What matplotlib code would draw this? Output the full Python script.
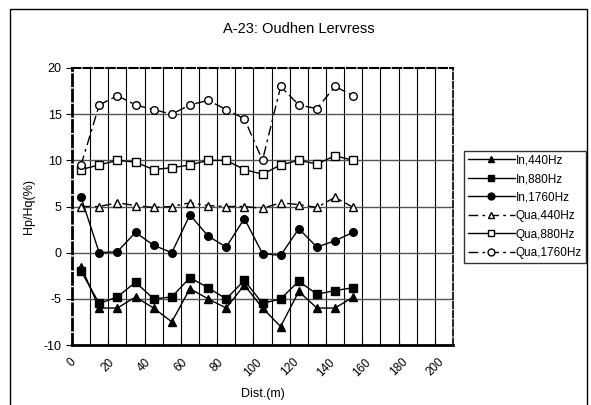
import numpy as np
import matplotlib
matplotlib.use("Agg")
import matplotlib.pyplot as plt
from matplotlib.patches import Rectangle

plt.rcParams['font.family'] = ['Liberation Sans', 'DejaVu Sans']
plt.rcParams['axes.unicode_minus'] = False

dist = [5, 15, 25, 35, 45, 55, 65, 75, 85, 95, 105, 115, 125, 135, 145, 155]
in_440 = [-1.5, -6, -6, -4.8, -6, -7.5, -3.9, -5, -6, -3.5, -6, -8, -4.2, -6, -6, -4.8]
in_880 = [-2, -5.5, -4.8, -3.2, -5, -4.8, -2.7, -3.8, -5, -3, -5.5, -5, -3.1, -4.5, -4.1, -3.8]
in_1760 = [6, 0, 0.1, 2.2, 0.8, 0, 4.1, 1.8, 0.6, 3.7, -0.1, -0.3, 2.6, 0.6, 1.3, 2.2]
qua_440 = [5, 5, 5.4, 5.1, 4.9, 5, 5.4, 5.1, 5, 5, 4.8, 5.4, 5.2, 4.9, 6, 4.9]
qua_880 = [9, 9.5, 10, 9.8, 9, 9.2, 9.5, 10, 10, 9, 8.5, 9.5, 10, 9.6, 10.5, 10]
qua_1760 = [9.5, 16, 17, 16, 15.5, 15, 16, 16.5, 15.5, 14.5, 10, 18, 16, 15.6, 18, 17]

xticks = list(range(0, 201, 20))

fig = plt.figure(figsize=(5.91, 4.05), dpi=100)
fig.patches.append(Rectangle((10/591, -0.05), 577/591, 1 - 9/405 + 0.05,
                             transform=fig.transFigure, fill=False,
                             edgecolor='black', linewidth=1.0))
ax = fig.add_axes([72/591, 60/405, 381/591, 277/405])

dashdot = (0, (7, 3, 2, 3))
ms = 5.5
ax.plot(dist, in_440, color='black', lw=1, marker='^', ms=ms, label='In,440Hz')
ax.plot(dist, in_880, color='black', lw=1, marker='s', ms=ms, label='In,880Hz')
ax.plot(dist, in_1760, color='black', lw=1, marker='o', ms=ms, label='In,1760Hz')
ax.plot(dist, qua_440, color='black', lw=1, ls=dashdot, marker='^', ms=ms,
        mfc='white', label='Qua,440Hz')
ax.plot(dist, qua_880, color='black', lw=1, marker='s', ms=ms,
        mfc='white', label='Qua,880Hz')
ax.plot(dist, qua_1760, color='black', lw=1, ls=dashdot, marker='o', ms=ms,
        mfc='white', label='Qua,1760Hz')

ax.set_xlim(0, 210)
ax.set_ylim(-10, 20)
ax.set_yticks(range(-10, 21, 5))
ax.set_xticks(range(10, 210, 10), minor=True)
ax.set_xticks(xticks)
ax.set_xticklabels([str(t) for t in xticks], rotation=45, ha='center')
ax.tick_params(axis='x', which='both', direction='in', length=4, pad=8, labelsize=8.5)
ax.tick_params(axis='y', direction='out', length=4, labelsize=9)

for v in range(10, 210, 10):
    ax.axvline(v, color='black', lw=0.8, zorder=0)
for v in range(-5, 20, 5):
    ax.axhline(v, color='#555555', lw=1.0, zorder=0)

for side in ['left', 'top', 'right']:
    ax.spines[side].set_linestyle((0, (4, 1.5)))
ax.spines['left'].set_linewidth(2)
ax.spines['top'].set_linewidth(1.5)
ax.spines['right'].set_linewidth(1.2)
ax.spines['bottom'].set_linewidth(2)

ax.set_xlabel('Dist.(m)', fontsize=9, labelpad=7)
ax.set_ylabel('Hp/Hq(%)', fontsize=9, labelpad=6)
fig.text(299/591, 1 - 29/405, 'A-23: Oudhen Lervress', ha='center', va='center', fontsize=10.5)

fig.legend(loc='upper left', bbox_to_anchor=(464/591, 1 - 151/405),
           fontsize=8.5, frameon=True, fancybox=False, edgecolor='black',
           handlelength=4, handletextpad=0.1, borderpad=0.3, labelspacing=0.55,
           borderaxespad=0, markerscale=0.9)

fig.savefig('out.png', dpi=100)
